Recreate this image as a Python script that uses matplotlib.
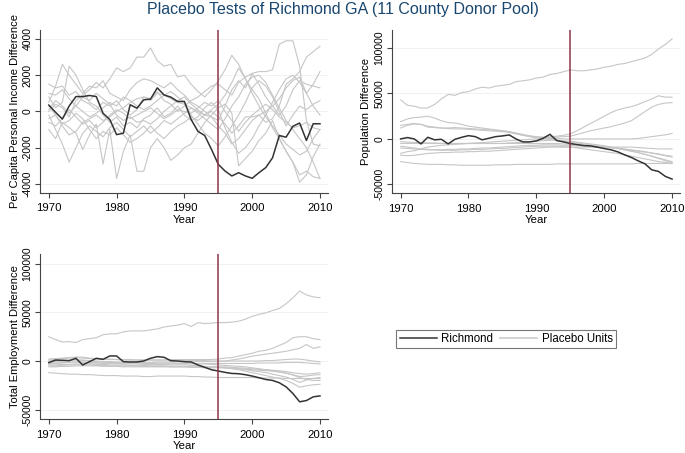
import matplotlib
matplotlib.use("Agg")
import matplotlib.pyplot as plt
from matplotlib.lines import Line2D

plt.rcParams['font.family'] = ['Liberation Sans', 'DejaVu Sans']

years = list(range(1970, 2011))
treat_year = 1995

# ---------------- Per capita personal income difference ----------------
inc_richmond = [350, -50, -420, 300, 820, 820, 880, 820, -100, -450, -1280, -1200, 370, 180, 640, 680,
                1300, 910, 790, 550, 550, -450, -1100, -1330, -2100, -2920, -3290, -3560, -3380, -3560,
                -3690, -3380, -3100, -2560, -1330, -1420, -820, -640, -1600, -680, -680]
inc_placebo = [
    [0, 400, 200, -300, 600, 900, 1200, 1600, 1300, 1800, 2400, 2200, 2400, 3000, 3000, 3500, 2800, 2500, 2600, 1900,
     2000, 1500, 1100, 800, 1200, 1700, 2300, 3100, 2600, 1800, 1200, 700, -100, -900, -1500, -2200, -2800, -3500, -3300, -3600, -3700],
    [1500, 1300, 1400, 900, 1100, 600, 400, 100, 500, 300, 600, 100, -200, 100, 800, 700, 1100, 600, 400, 0,
     300, 600, 800, 1100, 1400, 1500, 1200, 900, 1600, 1900, 2100, 2200, 2200, 2300, 3700, 3900, 3900, 2500, -500, -1800, -1900],
    [300, -200, -800, -1300, -1100, -600, -400, -200, -500, -300, 0, 200, 500, 700, 800, 600, 1000, 900, 700, 500,
     400, 200, 0, -200, -300, -800, -1200, -1800, -1500, -1000, -500, -200, -600, -400, 300, 1500, 1800, 2200, 3000, 3300, 3600],
    [-1000, -1500, -600, -900, -1200, -2100, -1300, -700, -2900, -1000, -3700, -2200, -1300, -3300, -3300, -2000, -1500, -2000, -2700, -2400,
     -2000, -1800, -1200, -600, -200, 200, 400, -100, -3000, -2600, -2200, -1600, -1200, -500, -1500, -2200, -2800, -3900, -3500, -2500, -1800],
    [500, 1400, 2600, 2000, 1500, 1000, 1400, 1300, 1700, 1000, 800, 600, 1200, 1600, 1800, 1700, 1500, 1300, 1600, 1200,
     900, 500, 300, 0, -300, -500, 300, 1200, 1700, 1300, 2100, 1500, 800, 300, -200, 300, 1200, 1700, 1500, 1400, 1300],
    [800, 200, 500, 2500, 2000, 1200, 500, 300, -200, -600, -300, -800, -600, -900, -400, -200, 200, -300, -100, 300,
     -200, -500, -300, 200, 500, 100, -900, -1700, -2300, -2000, -1500, -800, -200, 500, 1200, 1800, 2000, 1600, 1000, 1500, 2200],
    [-200, -1000, -1800, -2800, -2000, -1200, -800, -1100, -1400, -900, -600, -1000, -1400, -1100, -800, -1200, -900, -500, -700, -400,
     -100, 200, -100, -400, -700, -1000, -400, 300, 800, 1500, 1900, 2000, 1600, 900, 200, -500, -1000, -1500, -2000, -2800, -3700],
    [100, 600, 300, -100, 300, 800, 600, 1000, 700, 400, -200, -500, -300, -600, -500, -700, -400, 0, 300, 600,
     800, 400, 100, -200, 100, 400, 900, 1600, 2400, 1800, 1000, 300, -300, -800, -1300, -1800, -2100, -2400, -2200, -1500, -1000],
    [-400, -200, -700, -500, -100, -400, -1000, -1500, -1100, -1300, -900, -1300, -1700, -1500, -1200, -800, -1200, -1500, -1100, -800,
     -600, -300, -500, -200, 0, -300, -700, -1200, -800, -300, -300, -200, 0, 300, 700, 1300, 1700, 1900, 1000, 300, -200],
    [1000, 900, 1200, 700, 300, 0, -300, -100, 200, 500, 300, 800, 600, 300, 100, 300, 600, 900, 1100, 800,
     500, -200, -700, -1200, -1500, -1900, -1400, -800, -200, 500, 1300, 1700, 1400, 800, 0, -800, -200, 300, 100, 400, 600],
    [-600, -800, -400, 100, -300, -700, -500, -900, -600, -200, 100, -100, -400, -200, 0, 200, -100, -400, -200, 100,
     0, -100, 200, 500, 300, 600, 0, -500, -1100, -600, -200, 100, 400, 100, -300, -600, -900, -800, -600, -900, -1000],
]

# ---------------- Population difference ----------------
pop_richmond = [0, 1500, 0, -5500, 1800, -1000, -400, -5500, -400, 1800, 3600, 2500, -1000, 700, 2500, 3300,
                4400, 0, -3300, -3300, -2200, 700, 5100, -1800, -3300, -5100, -6200, -7300, -7700, -9100,
                -10600, -12000, -14200, -17500, -20400, -24100, -27400, -34000, -35800, -41200, -44200]
pop_placebo = [
    [43000, 37000, 36000, 34000, 34000, 38000, 44000, 49000, 48000, 51000, 52000, 55000, 57000, 56000, 58000, 59000,
     60000, 63000, 64000, 65000, 67000, 68000, 71000, 72000, 74000, 76000, 75000, 75000, 76000, 77000, 79000, 80000,
     82000, 83000, 85000, 87000, 89000, 93000, 99000, 104000, 110000],
    [19000, 22000, 23500, 24000, 25000, 23000, 20000, 18000, 17500, 16000, 14000, 13000, 12000, 11000, 10000, 9000,
     8000, 6500, 5000, 3500, 2500, 2000, 2500, 3000, 4000, 5500, 9000, 13000, 17000, 21000, 25000, 29000,
     32000, 34000, 35500, 38000, 41000, 44000, 47500, 46000, 46000],
    [15000, 16000, 17000, 16000, 14000, 13000, 12000, 12000, 12500, 12000, 11500, 11000, 10500, 10000, 9500, 9000,
     8000, 6000, 4000, 3000, 2000, 1500, 1500, 2000, 2500, 3000, 5000, 7000, 9000, 10500, 12000, 13500,
     15500, 17500, 20000, 25000, 30000, 35000, 38000, 39500, 40000],
    [12000, 15000, 16500, 16000, 13000, 12500, 12000, 11500, 11000, 11000, 10500, 10000, 9500, 9000, 8500, 8000,
     7000, 5500, 4000, 2500, 1000, 0, -500, -1500, -2500, -3500, -4500, -5500, -6500, -7500, -8500, -9500,
     -10500, -12000, -13500, -15000, -17000, -19000, -21000, -23000, -25000],
    [-25000, -26000, -27000, -27500, -28000, -28000, -28000, -28500, -28500, -29000, -29000, -29000, -29000, -29000, -28500, -28500,
     -28500, -28000, -28000, -28000, -28000, -28000, -28000, -27500, -27500, -27500, -27500, -27500, -27500, -27500, -27500, -27500,
     -27500, -27500, -27500, -27000, -27000, -27000, -27000, -27000, -27000],
    [-16000, -14000, -13000, -11000, -9000, -8000, -7000, -6500, -6000, -5500, -5000, -4500, -4000, -3500, -3000, -2500,
     -2000, -1500, -1000, -500, 0, 0, 500, 500, 0, 0, 0, 0, 0, 0, 0, 0,
     0, 0, 0, 500, 1500, 2500, 3500, 4500, 6000],
    [-18000, -18500, -18000, -17000, -16000, -15500, -15000, -15000, -14500, -14500, -14000, -14000, -13500, -13500, -13000, -12500,
     -12000, -11500, -11000, -10500, -10000, -9500, -9000, -9000, -9000, -9000, -9000, -9000, -9000, -9000, -9000, -9000,
     -9000, -9000, -9000, -9500, -10000, -10500, -11000, -11000, -11000],
    [-5000, -5000, -5000, -5000, -5000, -5000, -5000, -5000, -5000, -5000, -5000, -5000, -5000, -5000, -5000, -5000,
     -5000, -5000, -5000, -5000, -5000, -5000, -5000, -5000, -5500, -6000, -6500, -7000, -7500, -8000, -8500, -9000,
     -10000, -11000, -12000, -13000, -14000, -15500, -17000, -18500, -20000],
    [-8000, -9000, -10000, -11000, -11500, -12000, -12500, -12500, -12500, -12000, -12000, -11500, -11500, -11000, -10500, -10500,
     -10000, -9500, -9000, -8500, -8000, -8000, -8000, -8000, -8500, -9000, -10000, -11000, -12000, -13000, -14000, -15000,
     -16000, -17500, -19000, -20500, -22000, -23500, -25000, -26000, -27000],
    [-3000, -3500, -4000, -4000, -4500, -4500, -5000, -5000, -5000, -5000, -5000, -5000, -5000, -5000, -5000, -5000,
     -4500, -4000, -3500, -3000, -2500, -2000, -1500, -1500, -2000, -2500, -3500, -4500, -5500, -6500, -7500, -9000,
     -10500, -12000, -13500, -15000, -17000, -19000, -21500, -24000, -26000],
    [-10000, -10500, -11000, -11500, -12000, -12000, -12000, -11500, -11500, -11000, -11000, -10500, -10000, -10000, -9500, -9000,
     -8500, -8000, -7500, -7000, -7000, -6500, -6500, -6500, -7000, -7000, -7500, -8000, -8500, -9000, -9500, -10000,
     -10500, -11500, -12500, -13500, -14500, -15500, -16500, -18000, -19000],
]

# ---------------- Total employment difference ----------------
emp_richmond = [-1700, 1000, 700, 300, 2800, -4100, -700, 2800, 1700, 5200, 5200, -700, -1000, -1000, 0, 2800,
                4500, 3800, 300, 0, -700, -1000, -4100, -6500, -9000, -10300, -11700, -12800, -13100, -14100,
                -15500, -17200, -19000, -20000, -22400, -26600, -33400, -42000, -40700, -36900, -35900]
emp_placebo = [
    [25000, 22000, 19500, 20000, 19000, 22000, 23000, 24000, 27000, 28000, 28000, 30000, 31000, 31000, 31000, 32000,
     33000, 35000, 36000, 37000, 38500, 35500, 39500, 38500, 39000, 39500, 39500, 40000, 41000, 43000, 46000, 48000,
     49500, 52000, 54000, 59000, 65000, 72000, 68000, 66000, 65000],
    [1000, 2000, 2500, 3000, 3500, 3000, 2500, 2000, 2000, 1500, 1500, 1000, 1000, 1000, 1000, 1000,
     1000, 1000, 1500, 1500, 1500, 1500, 1500, 1500, 1500, 2000, 3000, 3500, 5000, 6500, 8000, 10000,
     11000, 13000, 16000, 19000, 24000, 25000, 25000, 23000, 22000],
    [-3000, -2500, -2000, -1500, -1000, -1500, -2000, -2000, -2500, -2500, -2000, -2000, -2000, -1500, -1500, -1500,
     -1000, -1000, -1000, -1000, -1000, -1000, -500, -500, -500, -500, 0, 1000, 2000, 3500, 5000, 6000,
     7000, 8000, 9000, 10000, 11500, 13000, 17000, 13000, 14500],
    [-12000, -12500, -13000, -13500, -13500, -14000, -14000, -14500, -15000, -15000, -15000, -15500, -15500, -15500, -16000, -16000,
     -15500, -15500, -15500, -15500, -15500, -16000, -16000, -16500, -16500, -17000, -17000, -17000, -17000, -17000, -17000, -17500,
     -17500, -17500, -17500, -18000, -18000, -18000, -18000, -18000, -18000],
    [2000, 2500, 3000, 3500, 4000, 4000, 3000, 2500, 2000, 2000, 1500, 1500, 1500, 1000, 1000, 1000,
     1000, 1000, 1000, 1000, 500, 500, 500, 500, 0, 0, 0, 0, 0, 0, 0, 0,
     500, 500, 1000, 1500, 2000, 2000, 1000, 0, -1000],
    [-1000, -500, 0, 500, 1000, 500, 0, -500, -1000, -1500, -1500, -2000, -2000, -2000, -2500, -2500,
     -3000, -3000, -3000, -3000, -3000, -3000, -2500, -2500, -2500, -2500, -2500, -2500, -2500, -2500, -2500, -2000,
     -2000, -2000, -2000, -1500, -1500, -1500, -2000, -2500, -3000],
    [-5000, -5000, -4500, -4000, -4000, -4000, -4000, -4500, -4500, -5000, -5000, -5000, -5000, -5000, -5500, -5500,
     -5500, -5500, -6000, -6000, -6000, -6500, -6500, -7000, -7000, -7000, -7000, -7500, -8000, -8500, -9000, -9500,
     -10000, -10500, -11500, -12500, -14000, -16000, -15500, -14500, -14000],
    [-4000, -4000, -3500, -3500, -3000, -3000, -3000, -3500, -3500, -4000, -4000, -4000, -4500, -4500, -4500, -5000,
     -5000, -5000, -5500, -5500, -5500, -6000, -6000, -6000, -6000, -6500, -7000, -7500, -8000, -9000, -10000, -11000,
     -12000, -13500, -15000, -16500, -19000, -22000, -19500, -18000, -17000],
    [-2000, -2000, -1500, -1500, -1000, -1000, -1500, -2000, -2000, -2500, -2500, -3000, -3000, -3000, -3500, -3500,
     -3500, -3500, -4000, -4000, -4000, -4500, -5000, -5500, -6000, -6500, -7000, -8000, -9000, -10500, -12000, -13500,
     -15000, -16500, -18000, -20000, -23000, -27000, -25500, -24500, -24000],
    [0, 500, 1000, 1000, 1500, 1000, 500, 0, -500, -500, -1000, -1000, -1500, -1500, -1500, -2000,
     -2000, -2000, -2000, -2500, -2500, -2500, -3000, -3000, -3500, -4000, -4500, -5000, -5500, -6000, -7000, -8000,
     -9000, -10000, -11000, -12500, -14500, -17000, -19000, -20000, -20000],
    [-6000, -6000, -5500, -5500, -5000, -5000, -5000, -5000, -5500, -5500, -5500, -6000, -6000, -6000, -6000, -6000,
     -6000, -6000, -6000, -6000, -6000, -6000, -6000, -6000, -6000, -6000, -6000, -6500, -7000, -7500, -8000, -8500,
     -9000, -9500, -10000, -11000, -12000, -13000, -13500, -13000, -12000],
]

x_ticks = [1970, 1980, 1990, 2000, 2010]

fig = plt.figure(figsize=(6.85, 4.53), dpi=100)
fig.patch.set_facecolor('white')

title_color = '#1a476f'
rich_color = '#333333'
plac_color = '#c6c6c6'
vline_color = '#903545'
grid_color = '#eaf0f2'
axis_color = '#444444'

def setup(ax, ylim, yticks, ylabel, placebo, richmond):
    for s in placebo:
        ax.plot(years, s, color=plac_color, lw=0.8, zorder=2)
    ax.plot(years, richmond, color=rich_color, lw=1.1, zorder=3)
    ax.axvline(treat_year, color=vline_color, lw=1.1, zorder=4)
    ax.set_xlim(1968.7, 2011.2)
    ax.set_ylim(*ylim)
    ax.set_xticks(x_ticks)
    ax.set_yticks(yticks)
    ax.set_yticklabels([str(v) for v in yticks], rotation=90, va='center')
    for v in yticks:
        ax.axhline(v, color=grid_color, lw=0.6, zorder=1)
    ax.spines['top'].set_visible(False)
    ax.spines['right'].set_visible(False)
    ax.spines['left'].set_color(axis_color)
    ax.spines['bottom'].set_color(axis_color)
    ax.tick_params(axis='both', color=axis_color, length=3.5, width=0.8)
    ax.tick_params(axis='x', labelsize=8.2, pad=4)
    ax.tick_params(axis='y', labelsize=7.5, pad=2)
    ax.set_xlabel('Year', fontsize=8.2, labelpad=1)
    ax.set_ylabel(ylabel, fontsize=8, labelpad=2)

ax1 = fig.add_axes([0.0584, 0.574, 0.4206, 0.360])
setup(ax1, (-4500, 4500), [-4000, -2000, 0, 2000, 4000],
      'Per Capita Personal Income Difference', inc_placebo, inc_richmond)

ax2 = fig.add_axes([0.572, 0.573, 0.421, 0.361])
setup(ax2, (-60000, 120000), [-50000, 0, 50000, 100000],
      'Population Difference', pop_placebo, pop_richmond)

ax3 = fig.add_axes([0.0584, 0.0744, 0.4206, 0.3646])
setup(ax3, (-60000, 110000), [-50000, 0, 50000, 100000],
      'Total Employment Difference', emp_placebo, emp_richmond)

fig.text(0.5, 0.978, 'Placebo Tests of Richmond GA (11 County Donor Pool)',
         ha='center', va='center', fontsize=11.5, color=title_color)

handles = [Line2D([], [], color=rich_color, lw=1.1), Line2D([], [], color=plac_color, lw=1.1)]
leg = fig.legend(handles, ['Richmond', 'Placebo Units'], loc='center',
                 bbox_to_anchor=(0.739, 0.2517), ncol=2, fontsize=8.3, frameon=True,
                 fancybox=False, edgecolor='#555555', handlelength=3.2, handletextpad=0.4,
                 columnspacing=0.6, borderpad=0.3)
leg.get_frame().set_linewidth(0.8)

fig.savefig('out.png', dpi=100, facecolor='white')
